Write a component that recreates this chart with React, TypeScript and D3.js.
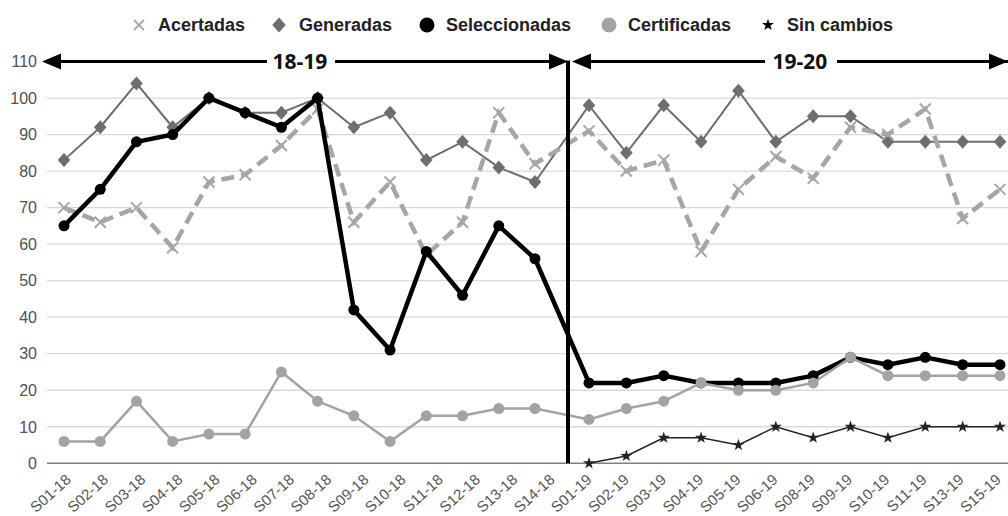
import React from "react";
import * as d3 from "d3";

const categories = [
  "S01-18","S02-18","S03-18","S04-18","S05-18","S06-18","S07-18","S08-18","S09-18","S10-18","S11-18","S12-18","S13-18","S14-18",
  "S01-19","S02-19","S03-19","S04-19","S05-19","S06-19","S08-19","S09-19","S10-19","S11-19","S13-19","S15-19",
];
const acertadas = [70,66,70,59,77,79,87,97,66,77,57,66,96,82, 91,80,83,58,75,84,78,92,90,97,67,75];
const generadas = [83,92,104,92,100,96,96,100,92,96,83,88,81,77, 98,85,98,88,102,88,95,95,88,88,88,88];
const seleccionadas = [65,75,88,90,100,96,92,100,42,31,58,46,65,56, 22,22,24,22,22,22,24,29,27,29,27,27];
const certificadas = [6,6,17,6,8,8,25,17,13,6,13,13,15,15, 12,15,17,22,20,20,22,29,24,24,24,24];
const sinCambios: (number | null)[] = [null,null,null,null,null,null,null,null,null,null,null,null,null,null, 0,2,7,7,5,10,7,10,7,10,10,10];
const yTicks = [0,10,20,30,40,50,60,70,80,90,100,110];
const periods = ["18-19", "19-20"];
const legendLabels = ["Acertadas", "Generadas", "Seleccionadas", "Certificadas", "Sin cambios"];

const W = 1008, H = 516;

export default function App() {
  // data points (two seasons pasted side by side)
  const x = d3.scaleLinear().domain([0, 13, 14, 25]).range([64, 535, 589, 1000]);
  // category labels (evenly spaced axis)
  const xl = d3.scalePoint<string>().domain(categories).range([64, 994]);
  const y = d3.scaleLinear().domain([0, 110]).range([463.3, 61.5]);

  const line = d3.line<number | null>()
    .defined((d) => d !== null)
    .x((_, i) => x(i))
    .y((d) => y(d as number));

  const star = d3.symbol().type(d3.symbolStar);
  const diamond = (cx: number, cy: number, r: number) => `M${cx},${cy - r}L${cx + r * 0.9},${cy}L${cx},${cy + r}L${cx - r * 0.9},${cy}Z`;
  const cross = (cx: number, cy: number, r: number) => `M${cx - r},${cy - r}L${cx + r},${cy + r}M${cx - r},${cy + r}L${cx + r},${cy - r}`;

  const cA = "#a6a6a6", cG = "#6e6e6e", cS = "#000", cC = "#a3a3a3", cN = "#222";
  const divX = (x(13) + x(14)) / 2 + 6;
  const arrowY = y(110);

  const legendX = [139, 279, 427, 609, 768];
  const legendTextX = [158, 299, 446, 628, 787];
  const ly = 25;

  const arrowHead = (tipX: number, dir: number) =>
    `M${tipX},${arrowY}L${tipX - dir * 19},${arrowY - 8}L${tipX - dir * 19},${arrowY + 8}Z`;

  return (
    <svg width={W} height={H} style={{ position: "absolute", left: 0, top: 0, background: "#fff" }} fontFamily="'Liberation Sans', Arial, sans-serif">
      {/* grid */}
      {yTicks.filter((t) => t > 0 && t < 110).map((t) => (
        <line key={t} x1={47} x2={W} y1={y(t)} y2={y(t)} stroke="#d9d9d9" strokeWidth={1.3} />
      ))}
      <line x1={47} x2={W} y1={y(0)} y2={y(0)} stroke="#808080" strokeWidth={1.5} />
      {yTicks.map((t) => (
        <text key={t} x={37} y={y(t)} dy="0.36em" textAnchor="end" fontSize={16} fill="#505050">{t}</text>
      ))}
      {categories.map((c) => (
        <text key={c} transform={`translate(${(xl(c) as number) + 8},481) rotate(-42)`} textAnchor="end" fontSize={15} fill="#555">{c}</text>
      ))}

      {/* Generadas */}
      <path d={line(generadas) as string} fill="none" stroke={cG} strokeWidth={2} />
      {generadas.map((v, i) => <path key={i} d={diamond(x(i), y(v), 7)} fill={cG} />)}

      {/* Acertadas */}
      <path d={line(acertadas) as string} fill="none" stroke={cA} strokeWidth={4.5} strokeDasharray="13,7" />
      {acertadas.map((v, i) => <path key={i} d={cross(x(i), y(v), 5.5)} stroke={cA} strokeWidth={2} fill="none" />)}

      {/* Seleccionadas */}
      <path d={line(seleccionadas) as string} fill="none" stroke={cS} strokeWidth={4.5} strokeLinejoin="round" />
      {seleccionadas.map((v, i) => <circle key={i} cx={x(i)} cy={y(v)} r={5.5} fill={cS} />)}

      {/* Certificadas */}
      <path d={line(certificadas) as string} fill="none" stroke={cC} strokeWidth={2.5} />
      {certificadas.map((v, i) => <circle key={i} cx={x(i)} cy={y(v)} r={5.5} fill={cC} />)}

      {/* Sin cambios */}
      <path d={line(sinCambios) as string} fill="none" stroke={cN} strokeWidth={1.5} />
      {sinCambios.map((v, i) => v === null ? null : (
        <path key={i} transform={`translate(${x(i)},${y(v)})`} d={star.size(45)() as string} fill={cN} />
      ))}

      {/* season annotations */}
      <line x1={divX} x2={divX} y1={arrowY - 1} y2={y(0)} stroke="#000" strokeWidth={4} />
      <line x1={55} x2={divX - 12} y1={arrowY} y2={arrowY} stroke="#000" strokeWidth={3} />
      <path d={arrowHead(42, -1)} fill="#000" />
      <path d={arrowHead(divX, 1)} fill="#000" />
      <line x1={divX + 15} x2={W} y1={arrowY} y2={arrowY} stroke="#000" strokeWidth={3} />
      <path d={arrowHead(divX + 4, -1)} fill="#000" />
      <path d={arrowHead(1008, 1)} fill="#000" />
      <rect x={267} y={arrowY - 12} width={68} height={24} fill="#fff" />
      <rect x={765} y={arrowY - 12} width={72} height={24} fill="#fff" />
      <text x={300} y={arrowY} dy="0.36em" textAnchor="middle" fontSize={21} fontWeight="bold" fontFamily="'Open Sans', sans-serif" fill="#111">{periods[0]}</text>
      <text x={800} y={arrowY} dy="0.36em" textAnchor="middle" fontSize={21} fontWeight="bold" fontFamily="'Open Sans', sans-serif" fill="#111">{periods[1]}</text>

      {/* legend */}
      <path d={cross(legendX[0], ly, 5)} stroke={cA} strokeWidth={1.8} fill="none" />
      <path d={diamond(legendX[1], ly, 7.5)} fill={cG} />
      <circle cx={legendX[2]} cy={ly} r={7.5} fill={cS} />
      <circle cx={legendX[3]} cy={ly} r={7.5} fill={cC} />
      <path transform={`translate(${legendX[4]},${ly})`} d={star.size(45)() as string} fill={cS} />
      {legendLabels.map((l, i) => (
        <text key={l} x={legendTextX[i]} y={ly} dy="0.36em" fontSize={18} fontWeight="bold" fill="#222">{l}</text>
      ))}
    </svg>
  );
}
